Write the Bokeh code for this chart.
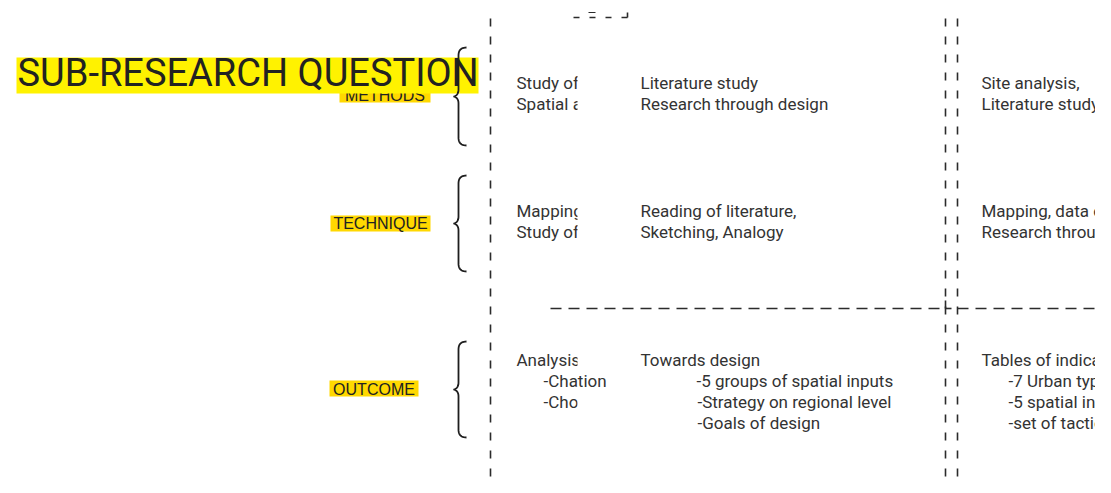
import numpy as np
from bokeh.plotting import figure
from bokeh.models import Range1d
from bokeh.core.properties import value
from bokeh.embed import file_html
from bokeh.resources import INLINE

# ---------------- content ----------------
title_text = "SUB-RESEARCH QUESTION"
row_labels = ["METHODS", "TECHNIQUE", "OUTCOME"]

col1_text = ["Study of", "Spatial a", "Mapping", "Study of", "Analysis", "-Chation", "-Cho"]
col2_text = ["Literature study", "Research through design",
             "Reading of literature,", "Sketching, Analogy",
             "Towards design", "-5 groups of spatial inputs",
             "-Strategy on regional level", "-Goals of design"]
col3_text = ["Site analysis,", "Literature study",
             "Mapping, data c", "Research throu",
             "Tables of indica", "-7 Urban typ", "-5 spatial in", "-set of tactics"]

# ---------------- layout (screen pixel space) ----------------
W, H = 1095, 477
p = figure(width=W, height=H, x_range=Range1d(0, W), y_range=Range1d(H, 0),
           output_backend="svg", toolbar_location=None, min_border=0)
p.xaxis.visible = False
p.yaxis.visible = False
p.xgrid.visible = False
p.ygrid.visible = False
p.outline_line_color = None
p.background_fill_color = "white"

INK = "#2b2b2b"
TXT = "#333333"
FS = "17px"

# label boxes (golden yellow)
lab_left = [339, 330, 329]
lab_right = [430, 430, 418]
lab_top = [88, 215, 380]
lab_bot = [102, 231, 396]
p.quad(left=lab_left, right=lab_right, top=lab_top, bottom=lab_bot,
       fill_color="#ffd800", line_color=None)
p.text(x=[(a + b) / 2 for a, b in zip(lab_left, lab_right)], y=[95, 223, 389], text=row_labels,
       text_font=value("Liberation Sans"), text_font_size="16px", text_color="#222222",
       text_align="center", text_baseline="alphabetic")

# title box (bright yellow) covering the top of METHODS
p.quad(left=[16], right=[478], top=[57], bottom=[93], fill_color="#fff200", line_color=None)
p.text(x=[17], y=[72], text=[title_text], text_font=value("Roboto"), text_font_size="38px",
       text_color="#222222", text_baseline="alphabetic")

# column texts
b1 = [82, 103, 210, 231, 359, 380, 401]
x1 = [516, 516, 516, 516, 516, 543, 543]
p.text(x=x1, y=b1, text=col1_text, text_font=value("Roboto"), text_font_size=FS,
       text_color=TXT, text_baseline="alphabetic")
# clip mask of column 1 (not over the '-Chation' row)
p.quad(left=[577, 577, 577, 577], right=[636, 636, 636, 636],
       top=[68, 196, 346, 392], bottom=[114, 242, 370, 412],
       fill_color="white", line_color=None)

b2 = [82, 103, 210, 231, 359, 380, 401, 422]
x2 = [640, 640, 640, 640, 640, 696, 697, 697]
p.text(x=x2, y=b2, text=col2_text, text_font=value("Roboto"), text_font_size=FS,
       text_color=TXT, text_baseline="alphabetic")

x3 = [981, 981, 981, 981, 981, 1008, 1008, 1008]
p.text(x=x3, y=b2, text=col3_text, text_font=value("Roboto"), text_font_size=FS,
       text_color=TXT, text_baseline="alphabetic")


# braces
def qbez(p0, c, p1, n=12):
    t = np.linspace(0, 1, n)[:, None]
    p0, c, p1 = map(np.array, (p0, c, p1))
    return (1 - t) ** 2 * p0 + 2 * (1 - t) * t * c + t ** 2 * p1


def brace(top, bot, tip, xl=458.0, xe=466.0, xt=453.0):
    seg = [
        qbez((xe, top), (xl, top), (xl, top + 8)),
        np.array([[xl, top + 8], [xl, tip - 7]]),
        qbez((xl, tip - 7), (xl, tip - 1), (xt, tip)),
        qbez((xt, tip), (xl, tip + 1), (xl, tip + 7)),
        np.array([[xl, tip + 7], [xl, bot - 8]]),
        qbez((xl, bot - 8), (xl, bot), (xe, bot)),
    ]
    pts = np.vstack(seg)
    return list(pts[:, 0]), list(pts[:, 1])


brace_top = [47, 175, 341]
brace_bot = [145, 271, 437]
brace_tip = [96, 223, 389]
xs, ys = [], []
for t, b, m in zip(brace_top, brace_bot, brace_tip):
    bx, by = brace(t, b, m)
    xs.append(bx)
    ys.append(by)
p.multi_line(xs=xs, ys=ys, line_color="#1e1e1e", line_width=1.8)

# dashed frame lines
p.line([490, 490], [18, 500], line_color=INK, line_width=1.6, line_dash="8 10")
p.line([945, 945], [18, 500], line_color=INK, line_width=1.6, line_dash="8 10")
p.line([957, 957], [18, 500], line_color=INK, line_width=1.6, line_dash="8 10")
p.line([550, 945], [308, 308], line_color=INK, line_width=1.6, line_dash="11 7")
p.line([957, 1110], [308, 308], line_color=INK, line_width=1.6, line_dash="11 7")
p.line([945, 951], [308, 308], line_color=INK, line_width=1.6)
p.line([945, 945], [300, 308], line_color=INK, line_width=1.6)

# small clipped fragment at the top
p.line([573, 627], [17, 17], line_color=INK, line_width=1.6, line_dash="6 10")
p.line([627, 627], [12, 17], line_color=INK, line_width=1.6)
p.line([588, 595], [12, 12], line_color=INK, line_width=1.0)

open("out.html", "w").write(file_html(p, INLINE))
